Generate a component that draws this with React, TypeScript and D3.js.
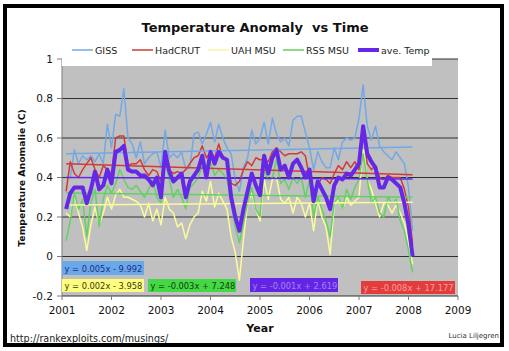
import * as d3 from "d3";

// monthly anomalies, Jan 2001 .. Jan 2008
const giss = [
  0.40, 0.40, 0.54, 0.47, 0.51, 0.49, 0.51, 0.48, 0.52, 0.47, 0.67, 0.55,
  0.72, 0.71, 0.85, 0.60, 0.57, 0.50, 0.58, 0.47, 0.50, 0.52, 0.53, 0.45,
  0.64, 0.50, 0.52, 0.50, 0.53, 0.44, 0.45, 0.62, 0.63, 0.57, 0.62, 0.68,
  0.58, 0.67, 0.60, 0.55, 0.52, 0.39, 0.33, 0.45, 0.50, 0.64, 0.57, 0.60,
  0.68, 0.57, 0.70, 0.62, 0.58, 0.60, 0.56, 0.69, 0.71, 0.71, 0.63, 0.55,
  0.44, 0.53, 0.48, 0.45, 0.45, 0.55, 0.49, 0.58, 0.60, 0.59, 0.60, 0.70,
  0.87, 0.66, 0.59, 0.66, 0.56, 0.53, 0.51, 0.49, 0.53, 0.50, 0.47, 0.35,
  0.13,
];
const hadcrut = [
  0.33, 0.48, 0.42, 0.40, 0.44, 0.47, 0.50, 0.44, 0.40, 0.46, 0.44, 0.42,
  0.60, 0.61, 0.61, 0.46, 0.47, 0.47, 0.49, 0.44, 0.41, 0.44, 0.43, 0.38,
  0.53, 0.44, 0.42, 0.43, 0.42, 0.44, 0.47, 0.50, 0.51, 0.56, 0.50, 0.53,
  0.50, 0.57, 0.50, 0.49, 0.37, 0.36, 0.38, 0.44, 0.48, 0.46, 0.50, 0.49,
  0.49, 0.48, 0.53, 0.55, 0.53, 0.51, 0.52, 0.52, 0.52, 0.53, 0.51, 0.40,
  0.28, 0.36, 0.40, 0.39, 0.37, 0.42, 0.46, 0.44, 0.48, 0.45, 0.48, 0.44,
  0.64, 0.47, 0.44, 0.46, 0.40, 0.39, 0.41, 0.40, 0.40, 0.40, 0.34, 0.25,
  0.06,
];
const uah = [
  0.22, 0.20, 0.31, 0.22, 0.15, 0.03, 0.16, 0.25, 0.16, 0.22, 0.30, 0.24,
  0.31, 0.34, 0.30, 0.30, 0.29, 0.28, 0.26, 0.20, 0.27, 0.18, 0.24, 0.16,
  0.30, 0.24, 0.22, 0.15, 0.17, 0.09, 0.16, 0.20, 0.22, 0.33, 0.28, 0.38,
  0.25, 0.32, 0.28, 0.24, 0.10, 0.02, -0.12, 0.09, 0.27, 0.32, 0.24, 0.18,
  0.39, 0.29, 0.39, 0.40, 0.29, 0.27, 0.30, 0.22, 0.30, 0.27, 0.20, 0.27,
  0.13, 0.29, 0.20, 0.15, 0.01, 0.26, 0.29, 0.24, 0.30, 0.26, 0.28, 0.30,
  0.55, 0.39, 0.34, 0.27, 0.20, 0.27, 0.26, 0.22, 0.26, 0.22, 0.17, 0.07,
  -0.04,
];
const rss = [
  0.08, 0.18, 0.32, 0.24, 0.29, 0.10, 0.27, 0.34, 0.15, 0.29, 0.36, 0.32,
  0.37, 0.44, 0.39, 0.35, 0.34, 0.36, 0.33, 0.30, 0.34, 0.39, 0.30, 0.27,
  0.49, 0.39, 0.30, 0.34, 0.30, 0.24, 0.35, 0.37, 0.40, 0.46, 0.40, 0.48,
  0.41, 0.44, 0.42, 0.39, 0.27, 0.15, 0.07, 0.17, 0.27, 0.35, 0.24, 0.20,
  0.44, 0.39, 0.40, 0.49, 0.37, 0.39, 0.34, 0.40, 0.37, 0.40, 0.30, 0.39,
  0.20, 0.30, 0.24, 0.18, 0.10, 0.27, 0.30, 0.24, 0.34, 0.29, 0.35, 0.39,
  0.52, 0.39, 0.27, 0.30, 0.22, 0.20, 0.30, 0.27, 0.29, 0.18, 0.13, 0.03,
  -0.08,
];
const aveTemp = [
  0.24, 0.32, 0.35, 0.35, 0.35, 0.27, 0.34, 0.43, 0.34, 0.36, 0.44, 0.37,
  0.53, 0.54, 0.56, 0.44, 0.43, 0.43, 0.41, 0.41, 0.39, 0.36, 0.40, 0.30,
  0.53, 0.43, 0.38, 0.40, 0.42, 0.30, 0.38, 0.41, 0.44, 0.51, 0.40, 0.53,
  0.47, 0.53, 0.50, 0.49, 0.30, 0.20, 0.13, 0.24, 0.33, 0.42, 0.36, 0.31,
  0.51, 0.42, 0.50, 0.54, 0.44, 0.46, 0.40, 0.47, 0.49, 0.45, 0.40, 0.44,
  0.28, 0.38, 0.34, 0.30, 0.24, 0.36, 0.40, 0.39, 0.42, 0.41, 0.44, 0.47,
  0.66, 0.52, 0.48, 0.45, 0.35, 0.35, 0.40, 0.39, 0.37, 0.35, 0.27, 0.16,
  0.00,
];

const seriesNames = ["GISS", "HadCRUT", "UAH MSU", "RSS MSU", "ave. Temp"];
const seriesValues = [giss, hadcrut, uah, rss, aveTemp];
// linear trend: value at first month, slope per year (from the fitted equations)
const trendStart = [0.52, 0.47, 0.261, 0.321, 0.40];
const trendSlope = [0.005, -0.008, 0.002, -0.003, -0.001];
const trendLabels = [
  "y = 0.005x - 9.992",
  "y = -0.008x + 17.177",
  "y = 0.002x - 3.958",
  "y = -0.003x + 7.248",
  "y = -0.001x + 2.619",
];
const yTicks = [-0.2, 0, 0.2, 0.4, 0.6, 0.8, 1];
const xTicks = [2001, 2002, 2003, 2004, 2005, 2006, 2007, 2008, 2009];

const colors = ["#72a8e6", "#d23a3a", "#fbfb9a", "#62d262", "#6428e6"];
const widths = [1.5, 1.5, 1.5, 1.5, 4];
// equation box styling: [fill, text colour, x0, y0, x1, y1]
const boxes: [string, string, number, number, number, number][] = [
  ["#6aa8ec", "#1c2f7a", 62, 261, 144, 275],
  ["#e23c3c", "#ff9e9e", 361, 281, 455, 294],
  ["#fdfd7e", "#3a3a10", 62, 279, 144, 292],
  ["#44d844", "#103d10", 148, 279, 236, 292],
  ["#6424e6", "#a286f4", 250, 278, 338, 292],
];

const W = 509;
const H = 351;
const font = "'DejaVu Sans', Verdana, sans-serif";

export default function App() {
  const x = d3.scaleLinear().domain([2001, 2009]).range([62, 458]);
  const y = d3.scaleLinear().domain([-0.2, 1]).range([296, 59]);
  const t = (i: number) => 2001 + (i + 1) / 12;
  const line = d3
    .line<number>()
    .x((_, i) => x(t(i)))
    .y((d) => y(d));
  const n = giss.length;
  const t0 = t(0);
  const t1 = t(n - 1);

  return (
    <svg
      width={W}
      height={H}
      viewBox={`0 0 ${W} ${H}`}
      style={{ position: "absolute", left: 0, top: 0, background: "#fff" }}
      fontFamily={font}
    >
      <rect x={0} y={0} width={W} height={H} fill="#fff" />
      {/* plot area */}
      <rect x={62} y={59} width={396} height={237} fill="#c0c0c0" />
      {yTicks.map((v) => (
        <line key={v} x1={62} x2={458} y1={y(v)} y2={y(v)} stroke="#303030" strokeWidth={1} />
      ))}
      <line x1={62} x2={62} y1={59} y2={296} stroke="#7a7a7a" />
      {yTicks.map((v) => (
        <line key={"t" + v} x1={57} x2={62} y1={y(v)} y2={y(v)} stroke="#7a7a7a" />
      ))}
      {xTicks.map((v) => (
        <line key={"x" + v} x1={x(v)} x2={x(v)} y1={296} y2={300} stroke="#7a7a7a" />
      ))}

      {/* series */}
      {seriesValues.slice(0, 4).map((vals, k) => (
        <path key={k} d={line(vals) ?? ""} fill="none" stroke={colors[k]} strokeWidth={widths[k]} strokeLinejoin="round" />
      ))}
      {/* trend lines */}
      {trendStart.map((v0, k) => (
        <line
          key={"tr" + k}
          x1={x(t0)}
          x2={x(t1)}
          y1={y(v0)}
          y2={y(v0 + trendSlope[k] * (t1 - t0))}
          stroke={colors[k]}
          strokeWidth={k === 4 ? 1.5 : 1.5}
        />
      ))}
      <path d={line(aveTemp) ?? ""} fill="none" stroke={colors[4]} strokeWidth={4} strokeLinejoin="round" />

      {/* legend */}
      <rect x={62} y={42} width={370} height={24} fill="#fff" />
      {seriesNames.map((name, k) => {
        const lx = [72, 132, 208, 283, 358][k];
        return (
          <g key={name}>
            <line x1={lx} x2={lx + 21} y1={50} y2={50} stroke={colors[k] === "#fbfb9a" ? "#f6f6a8" : colors[k]} strokeWidth={k === 4 ? 4 : 1.5} />
            <text x={lx + 23} y={53.5} fontSize={9.5} fill="#222">
              {name}
            </text>
          </g>
        );
      })}

      {/* equation boxes */}
      {boxes.map(([fill, tc, x0, y0, x1, y1], k) => (
        <g key={"b" + k}>
          <rect x={x0} y={y0} width={x1 - x0} height={y1 - y0} fill={fill} />
          <text x={x0 + 2.5} y={y1 - 3.5} fontSize={8.3} fill={tc}>
            {trendLabels[k]}
          </text>
        </g>
      ))}

      {/* axis labels */}
      {yTicks.map((v) => (
        <text key={"yl" + v} x={53} y={y(v) + 3.8} fontSize={10.5} textAnchor="end" fill="#111">
          {String(v)}
        </text>
      ))}
      {xTicks.map((v) => (
        <text key={"xl" + v} x={x(v)} y={314} fontSize={10.5} textAnchor="middle" fill="#111">
          {v}
        </text>
      ))}
      <text x={260} y={332} fontSize={11} fontWeight="bold" textAnchor="middle" fill="#111">
        Year
      </text>
      <text
        transform="translate(25,178) rotate(-90)"
        fontSize={9.3}
        fontWeight="bold"
        textAnchor="middle"
        fill="#111"
      >
        Temperature Anomalie (C)
      </text>
      <text x={255} y={32} fontSize={13} fontWeight="bold" textAnchor="middle" fill="#111" style={{ whiteSpace: "pre" }}>
        {"Temperature Anomaly  vs Time"}
      </text>
      <text x={10} y={342} fontSize={9.6} fill="#222">
        http://rankexploits.com/musings/
      </text>
      <text x={499} y={338} fontSize={7} textAnchor="end" fill="#333">
        Lucia Liljegren
      </text>

      {/* outer frame */}
      <rect x={5} y={6} width={497} height={339} fill="none" stroke="#000" strokeWidth={4} />
    </svg>
  );
}
